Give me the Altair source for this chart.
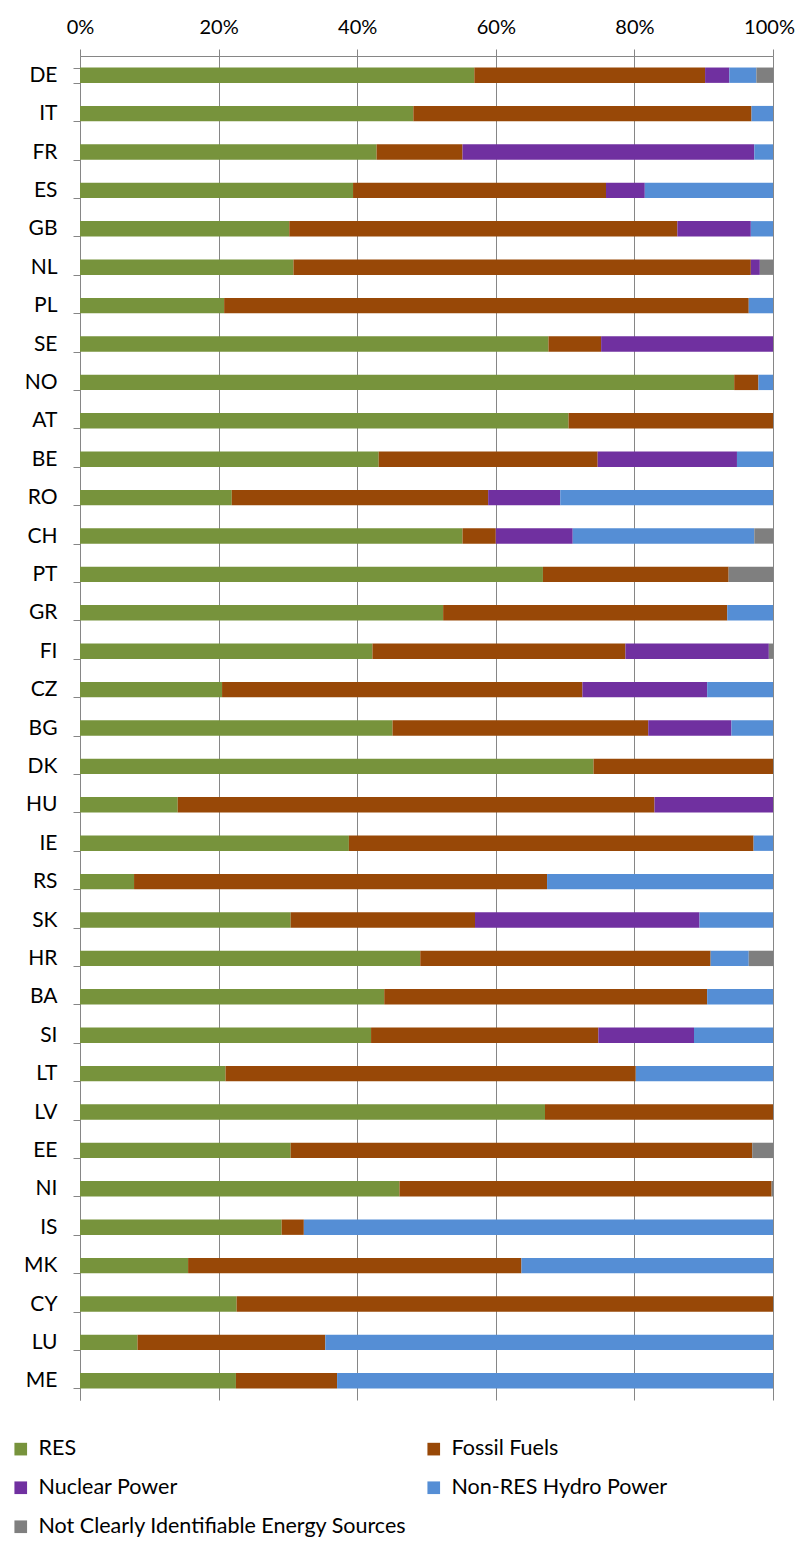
import altair as alt
import pandas as pd

countries = ["DE", "IT", "FR", "ES", "GB", "NL", "PL", "SE", "NO", "AT", "BE", "RO",
             "CH", "PT", "GR", "FI", "CZ", "BG", "DK", "HU", "IE", "RS", "SK", "HR",
             "BA", "SI", "LT", "LV", "EE", "NI", "IS", "MK", "CY", "LU", "ME"]

res     = [56.9, 48.1, 42.8, 39.4, 30.2, 30.8, 20.8, 67.6, 94.4, 70.5, 43.1, 21.9,
           55.2, 66.8, 52.4, 42.2, 20.5, 45.1, 74.1, 14.1, 38.8, 7.8, 30.4, 49.1,
           43.9, 42.0, 21.0, 67.1, 30.4, 46.1, 29.1, 15.6, 22.6, 8.3, 22.5]
fossil  = [33.3, 48.8, 12.4, 36.5, 56.0, 66.0, 75.7, 7.6, 3.5, 29.5, 31.6, 37.0,
           4.8, 26.8, 41.0, 36.5, 52.0, 36.9, 25.9, 68.8, 58.4, 59.6, 26.6, 41.9,
           46.6, 32.8, 59.2, 32.9, 66.6, 53.7, 3.2, 48.1, 77.4, 27.1, 14.6]
nuclear = [3.5, 0.0, 42.1, 5.6, 10.6, 1.3, 0.0, 24.8, 0.0, 0.0, 20.1, 10.4,
           11.1, 0.0, 0.0, 20.7, 18.0, 12.0, 0.0, 17.1, 0.0, 0.0, 32.4, 0.0,
           0.0, 13.8, 0.0, 0.0, 0.0, 0.0, 0.0, 0.0, 0.0, 0.0, 0.0]
hydro   = [3.9, 3.1, 2.7, 18.5, 3.2, 0.0, 3.5, 0.0, 2.1, 0.0, 5.2, 30.7,
           26.2, 0.0, 6.6, 0.0, 9.5, 6.0, 0.0, 0.0, 2.8, 32.6, 10.6, 5.5,
           9.5, 11.4, 19.8, 0.0, 0.0, 0.0, 67.7, 36.3, 0.0, 64.6, 62.9]
other   = [2.4, 0.0, 0.0, 0.0, 0.0, 1.9, 0.0, 0.0, 0.0, 0.0, 0.0, 0.0,
           2.7, 6.4, 0.0, 0.6, 0.0, 0.0, 0.0, 0.0, 0.0, 0.0, 0.0, 3.5,
           0.0, 0.0, 0.0, 0.0, 3.0, 0.2, 0.0, 0.0, 0.0, 0.0, 0.0]

sources = ["RES", "Fossil Fuels", "Nuclear Power", "Non-RES Hydro Power",
           "Not Clearly Identifiable Energy Sources"]
colors = ["#77933C", "#984807", "#7030A0", "#558ED5", "#7F7F7F"]

series = [res, fossil, nuclear, hydro, other]
rows = []
for si, (name, vals) in enumerate(zip(sources, series)):
    for c, v in zip(countries, vals):
        rows.append({"country": c, "source": name, "value": v, "idx": si})
df = pd.DataFrame(rows)

FONT = "Lato"

chart = alt.Chart(df).mark_bar().encode(
    y=alt.Y("country:N", sort=countries,
            scale=alt.Scale(paddingInner=0.6, paddingOuter=0.3),
            axis=alt.Axis(title=None, tickBand="extent", grid=False,
                          domainColor="#868686", tickColor="#868686",
                          tickSize=7, labelPadding=16, labelFont=FONT,
                          labelFontSize=21, labelColor="#000000", labelLimit=200)),
    x=alt.X("value:Q", stack="normalize",
            scale=alt.Scale(domain=[0, 1], nice=False),
            axis=alt.Axis(title=None, orient="top", format=".0%",
                          values=[0, 0.2, 0.4, 0.6, 0.8, 1.0],
                          grid=True, gridColor="#868686", gridWidth=1,
                          domainColor="#868686", tickColor="#868686",
                          tickSize=7, labelPadding=12, labelFont=FONT,
                          labelFontSize=20, labelColor="#000000",
                          labelOffset={"condition": {"test": "datum.value >= 1", "value": -4}, "value": 0},
                          labelFlush=False, labelOverlap=False)),
    color=alt.Color("source:N",
                    scale=alt.Scale(domain=sources, range=colors),
                    legend=alt.Legend(title=None, orient="none",
                                      legendX=-70, legendY=1382,
                                      columns=2, direction="horizontal",
                                      symbolType="square", symbolSize=160,
                                      symbolStrokeWidth=0,
                                      labelFont=FONT, labelFontSize=21.5,
                                      labelColor="#000000", labelOffset=7,
                                      rowPadding=16, columnPadding=16,
                                      labelLimit=500, padding=0)),
    order=alt.Order("idx:Q"),
).properties(
    width=693, height=1344,
    padding={"left": 72, "top": 48, "right": 22, "bottom": 142},
    autosize="none",
).configure_view(stroke=None)

chart.save("out.html", embed_options={"renderer": "svg", "actions": False})
